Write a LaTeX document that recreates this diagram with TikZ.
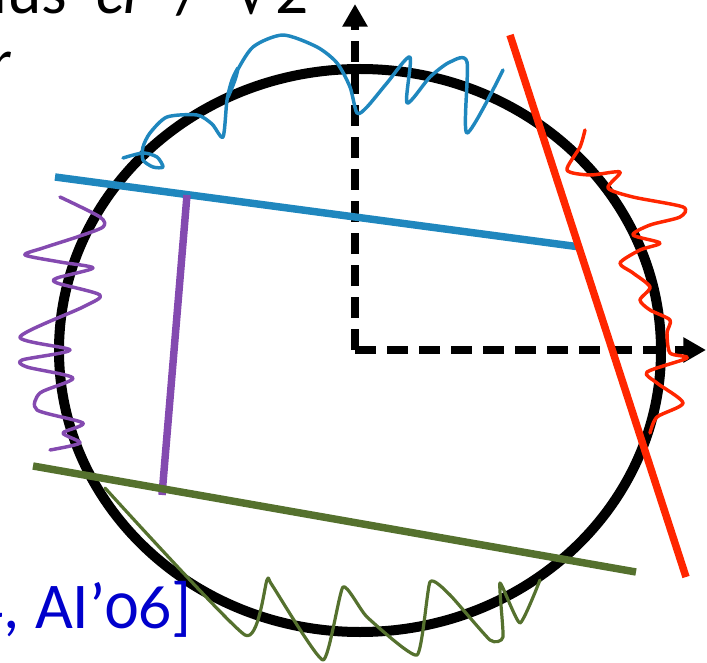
\documentclass[tikz,border=0pt]{standalone}
\usepackage{fontspec}
\setmainfont{Carlito}
\newfontfamily\radfont{DejaVu Sans}
\usetikzlibrary{arrows.meta}
\definecolor{ballblue}{RGB}{31,135,190}
\definecolor{ballpurple}{RGB}{132,74,176}
\definecolor{ballred}{RGB}{255,38,0}
\definecolor{ballgreen}{RGB}{85,113,46}
\definecolor{citeblue}{RGB}{0,0,204}
\begin{document}
\begin{tikzpicture}[x=0.75pt, y=-0.75pt,
  axis/.style={line width=6pt, dash pattern=on 16pt off 8pt, -{Triangle[width=18pt,length=17pt]}},
  cutline/.style={line width=5.6pt},
  wiggle/.style={line width=2.6pt, line join=round, line cap=round},
  lbl/.style={inner sep=0pt, font=\fontsize{49}{58}\selectfont}]
  \useasboundingbox (0,0) rectangle (707,663);
  % the ball
  \draw[line width=7.5pt] (360,350.5) ellipse (301 and 281.5);
  % axes
  \draw[axis] (355,350) -- (355,4);
  \draw[axis] (355,350) -- (706,350);
  % the cuts
  \draw[cutline, ballblue] (55,177) -- (580,247);
  \draw[cutline, ballpurple] (187,195) -- (162,495);
  \draw[cutline, ballgreen] (33,466) -- (636,572);
  \draw[cutline, ballred] (510,35) -- (686,577);
  % projections of the boundary
  \draw[wiggle, ballblue] plot[smooth, tension=0.45] coordinates {
    (123,158) (143,153) (157,157) (163,167) (153,167) (143,160) (143,147) (150,133)
    (167,117) (197,115) (212,124) (223,137) (227,100) (232,80) (238,68) (235,80)
    (228,97) (235,75) (253,47) (283,35) (317,47) (337,63) (350,87) (357,113)
    (367,107) (387,83) (410,57) (407,103) (430,77) (450,62) (467,62) (467,133) (503,70)};
  \draw[wiggle, ballred] plot[smooth, tension=0.45] coordinates {
    (585,130) (580,147) (567,170) (590,175) (620,172) (608,188) (633,197) (683,207)
    (680,217) (650,225) (633,235) (660,243) (640,250) (620,263) (633,273) (650,287)
    (640,300) (650,310) (670,320) (667,333) (670,353) (687,358) (647,372) (657,383)
    (683,403) (657,417) (650,433)};
  \draw[wiggle, ballpurple] plot[smooth, tension=0.45] coordinates {
    (60,197) (100,217) (103,227) (77,237) (43,248) (25,255) (60,262) (93,268)
    (57,278) (57,283) (100,295) (83,307) (20,337) (70,350) (22,360) (27,367)
    (73,378) (40,393) (37,410) (83,423) (63,433) (80,443) (50,450)};
  \draw[wiggle, ballgreen, line width=2.4pt] plot[smooth, tension=0.3] coordinates {
    (105,488) (245,635) (267,580) (272,585) (323,660) (343,587) (367,617) (417,655)
    (430,582) (450,595) (490,640) (503,637) (500,583) (520,623) (540,580)};
  % cropped slide text
  \node[lbl, anchor=base east] (radius) at (309,14)
    {radius\hspace{0.45em}\textit{cr}\hspace{0.45em}/\hspace{0.5em}{\radfont √}2};
  \node[lbl, anchor=base east] (rvar) at (12,84) {\textit{r}};
  \node[lbl, anchor=base east, text=citeblue] (cite) at (192,628)
    {[DIIM’04, AI’{\addfontfeatures{Numbers=OldStyle}06}]};
\end{tikzpicture}
\end{document}
